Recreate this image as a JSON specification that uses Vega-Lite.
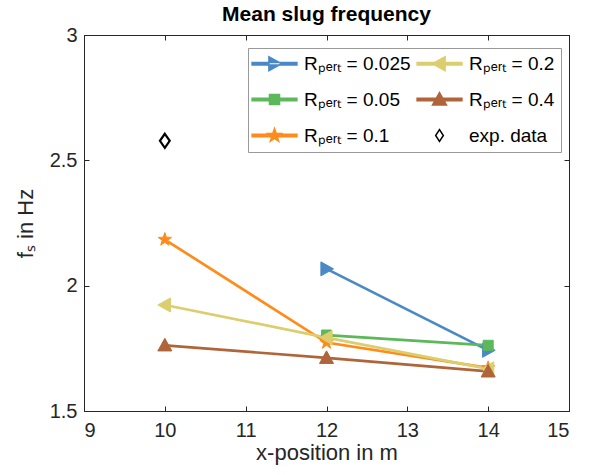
{
  "$schema": "https://vega.github.io/schema/vega-lite/v6.json",
  "width": 485,
  "height": 376,
  "autosize": "none",
  "padding": {"left": 84, "top": 35, "right": 20, "bottom": 64},
  "background": "white",
  "title": {"text": "Mean slug frequency", "font": "Liberation Sans", "fontSize": 21, "fontWeight": "bold", "color": "black", "anchor": "middle", "offset": 0},
  "config": {
    "view": {"stroke": "#262626", "strokeWidth": 1},
    "axis": {"grid": false, "domainColor": "#262626", "tickColor": "#262626", "labelColor": "#262626", "titleColor": "#262626", "labelFont": "Liberation Sans", "titleFont": "Liberation Sans", "labelFontSize": 20, "titleFontSize": 22, "titleFontWeight": "normal", "tickSize": -5, "labelPadding": 14},
    "legend": {"labelFont": "Liberation Sans"}
  },
  "data": {"values": [
    {"series": "0.025", "x": 12, "f": 2.067},
    {"series": "0.025", "x": 14, "f": 1.742},
    {"series": "0.05", "x": 12, "f": 1.803},
    {"series": "0.05", "x": 14, "f": 1.762},
    {"series": "0.1", "x": 10, "f": 2.184},
    {"series": "0.1", "x": 12, "f": 1.773},
    {"series": "0.1", "x": 14, "f": 1.672},
    {"series": "0.2", "x": 10, "f": 1.923},
    {"series": "0.2", "x": 12, "f": 1.793},
    {"series": "0.2", "x": 14, "f": 1.668},
    {"series": "0.4", "x": 10, "f": 1.762},
    {"series": "0.4", "x": 12, "f": 1.712},
    {"series": "0.4", "x": 14, "f": 1.658},
    {"series": "exp", "x": 10, "f": 2.578}
  ]},
  "resolve": {"scale": {"shape": "independent", "fill": "independent", "stroke": "independent"}, "axis": {"x": "independent", "y": "independent"}},
  "layer": [
    {
      "transform": [{"filter": "datum.series !== 'exp'"}],
      "mark": {"type": "line", "strokeWidth": 2.7},
      "encoding": {
        "x": {"field": "x", "type": "quantitative", "scale": {"domain": [9, 15], "nice": false, "zero": false}, "axis": {"title": "x-position in m", "values": [9, 10, 11, 12, 13, 14, 15], "format": "d", "titlePadding": 2}},
        "y": {"field": "f", "type": "quantitative", "scale": {"domain": [1.5, 3], "nice": false, "zero": false}, "axis": {"title": "fₛ in Hz", "values": [1.5, 2, 2.5, 3], "format": "~g", "labelPadding": 12, "titlePadding": 12}},
        "stroke": {"field": "series", "type": "nominal", "legend": null, "scale": {"domain": ["0.025", "0.05", "0.1", "0.2", "0.4"], "range": ["#4A88C6", "#5CB85A", "#FF8C1A", "#DCCE6E", "#B0643A"]}},
        "detail": {"field": "series"}
      }
    },
    {
      "mark": {"type": "point", "size": 196, "opacity": 1, "strokeWidth": 1},
      "encoding": {
        "x": {"field": "x", "type": "quantitative", "axis": null},
        "y": {"field": "f", "type": "quantitative", "axis": null},
        "shape": {"field": "series", "type": "nominal", "legend": null, "scale": {"domain": ["0.025", "0.05", "0.1", "0.2", "0.4", "exp"], "range": [
          "M1,0 L-0.8,-1 L-0.8,1 Z",
          "M-0.72,-0.72 H0.72 V0.72 H-0.72 Z",
          "M0,-1 L0.235,-0.324 L0.951,-0.309 L0.380,0.124 L0.588,0.809 L0,0.4 L-0.588,0.809 L-0.380,0.124 L-0.951,-0.309 L-0.235,-0.324 Z",
          "M-1,0 L0.8,-1 L0.8,1 Z",
          "M0,-1 L1,0.8 L-1,0.8 Z",
          "M0,-1 L0.7,0 L0,1 L-0.7,0 Z"]}},
        "fill": {"field": "series", "type": "nominal", "legend": null, "scale": {"domain": ["0.025", "0.05", "0.1", "0.2", "0.4", "exp"], "range": ["#4A88C6", "#5CB85A", "#FF8C1A", "#DCCE6E", "#B0643A", "white"]}},
        "stroke": {"field": "series", "type": "nominal", "legend": null, "scale": {"domain": ["0.025", "0.05", "0.1", "0.2", "0.4", "exp"], "range": ["#4A88C6", "#5CB85A", "#FF8C1A", "#DCCE6E", "#B0643A", "black"]}},
        "strokeWidth": {"condition": {"test": "datum.series === 'exp'", "value": 2.2}, "value": 1}
      }
    },
    {
      "mark": {"type": "point", "size": 196, "opacity": 0, "strokeWidth": 1.5},
      "encoding": {
        "x": {"field": "x", "type": "quantitative", "axis": {"orient": "top", "labels": false, "title": null, "values": [9, 10, 11, 12, 13, 14, 15]}},
        "y": {"field": "f", "type": "quantitative", "axis": {"orient": "right", "labels": false, "title": null, "values": [1.5, 2, 2.5, 3]}},
        "shape": {"field": "series", "type": "nominal", "scale": {"domain": ["0.025", "0.05", "0.1", "0.2", "0.4", "exp"], "range": [
          "M-3.2,-0.19 H3.2 V0.19 H-3.2 Z M1,0 L-0.8,-1 L-0.8,1 Z",
          "M-3.2,-0.19 H3.2 V0.19 H-3.2 Z M-0.72,-0.72 H0.72 V0.72 H-0.72 Z",
          "M-3.2,-0.19 H3.2 V0.19 H-3.2 Z M0,-1 L0.235,-0.324 L0.951,-0.309 L0.380,0.124 L0.588,0.809 L0,0.4 L-0.588,0.809 L-0.380,0.124 L-0.951,-0.309 L-0.235,-0.324 Z",
          "M-3.2,-0.19 H3.2 V0.19 H-3.2 Z M-1,0 L0.8,-1 L0.8,1 Z",
          "M-3.2,-0.19 H3.2 V0.19 H-3.2 Z M0,-1 L1,0.8 L-1,0.8 Z",
          "M0,-0.85 L0.55,0 L0,0.85 L-0.55,0 Z"]},
          "legend": {"title": null, "orient": "none", "legendX": 164, "legendY": 13, "columns": 2, "direction": "vertical", "strokeColor": "#999999", "fillColor": "white", "padding": 6, "symbolSize": 196, "symbolOpacity": 1, "symbolOffset": 11, "labelOffset": 20, "labelFontSize": 19, "labelColor": "black", "rowPadding": 15, "columnPadding": 3, "labelExpr": "datum.label === 'exp' ? 'exp. data' : 'Rₚₑᵣₜ = ' + datum.label"}},
        "fill": {"field": "series", "type": "nominal", "scale": {"domain": ["0.025", "0.05", "0.1", "0.2", "0.4", "exp"], "range": ["#4A88C6", "#5CB85A", "#FF8C1A", "#DCCE6E", "#B0643A", "white"]}, "legend": {"title": null, "orient": "none", "legendX": 164, "legendY": 13, "columns": 2, "symbolOpacity": 1}},
        "stroke": {"field": "series", "type": "nominal", "scale": {"domain": ["0.025", "0.05", "0.1", "0.2", "0.4", "exp"], "range": ["#4A88C6", "#5CB85A", "#FF8C1A", "#DCCE6E", "#B0643A", "black"]}, "legend": {"title": null, "orient": "none", "legendX": 164, "legendY": 13, "columns": 2, "symbolOpacity": 1}}
      }
    }
  ]
}
